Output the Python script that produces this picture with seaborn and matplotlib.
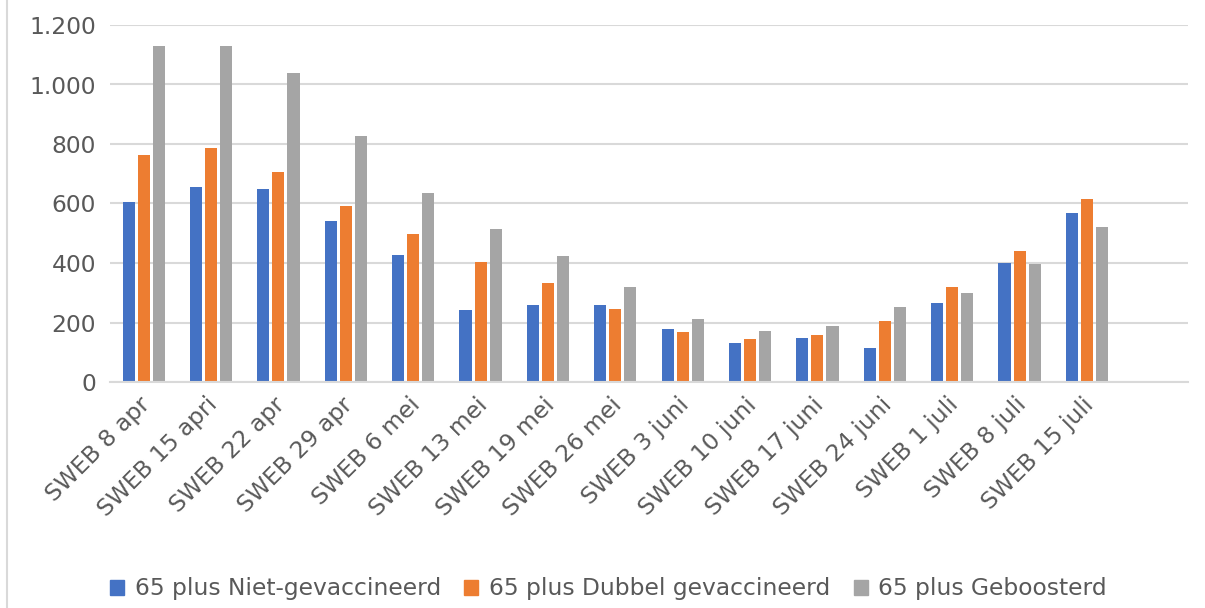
import matplotlib.pyplot as plt
import matplotlib.ticker as mticker
import matplotlib.transforms as mtransforms
from matplotlib.lines import Line2D
import pandas as pd
import seaborn as sns

weeks = ['SWEB 8 apr', 'SWEB 15 apri', 'SWEB 22 apr', 'SWEB 29 apr', 'SWEB 6 mei',
         'SWEB 13 mei', 'SWEB 19 mei', 'SWEB 26 mei', 'SWEB 3 juni', 'SWEB 10 juni',
         'SWEB 17 juni', 'SWEB 24 juni', 'SWEB 1 juli', 'SWEB 8 juli', 'SWEB 15 juli']
niet_gevaccineerd = [605, 655, 649, 541, 427, 242, 259, 259, 178, 131, 148, 114, 266, 400, 568]
dubbel_gevaccineerd = [763, 787, 706, 592, 497, 403, 333, 245, 168, 145, 158, 205, 319, 440, 615]
geboosterd = [1129, 1129, 1039, 827, 635, 514, 424, 319, 212, 171, 188, 252, 299, 397, 521]
series_names = ['65 plus Niet-gevaccineerd', '65 plus Dubbel gevaccineerd', '65 plus Geboosterd']
colors = ['#4472c4', '#ed7d31', '#a5a5a5']

rows = []
for name, vals in zip(series_names, [niet_gevaccineerd, dubbel_gevaccineerd, geboosterd]):
    for week, v in zip(weeks, vals):
        rows.append({'week': week, 'serie': name, 'waarde': v})
df = pd.DataFrame(rows)

sns.set_style('white')
plt.rcParams['font.family'] = ['DejaVu Sans']
text_color = '#595959'
grid_color = '#d9d9d9'

fig = plt.figure(figsize=(12.05, 6.08), dpi=100)
ax = fig.add_axes([110 / 1205, 1 - 382 / 608, (1188 - 110) / 1205, (382 - 25) / 608])

sns.barplot(data=df, x='week', y='waarde', hue='serie', hue_order=series_names,
            palette=colors, order=weeks, width=0.67, gap=0.2, saturation=1,
            linewidth=0, ax=ax, legend=False)

ax.set_xlim(-0.5, 15.5)
ax.set_ylim(0, 1200)
ax.yaxis.set_major_locator(mticker.MultipleLocator(200))
ax.yaxis.set_major_formatter(mticker.FuncFormatter(lambda v, p: f'{int(v):,}'.replace(',', '.')))
ax.grid(True, axis='y', color=grid_color, linewidth=1.5)
ax.set_axisbelow(True)
for side in ['top', 'right', 'left']:
    ax.spines[side].set_visible(False)
ax.spines['bottom'].set_color(grid_color)
ax.spines['bottom'].set_linewidth(1.5)
ax.set_xlabel('')
ax.set_ylabel('')
ax.tick_params(axis='both', length=0, labelsize=16.8, colors=text_color)
ax.tick_params(axis='y', pad=10)
ax.tick_params(axis='x', pad=8)
shift = mtransforms.ScaledTranslation(-5 / 100, 0, fig.dpi_scale_trans)
for lbl in ax.get_xticklabels():
    lbl.set_rotation(45)
    lbl.set_ha('right')
    lbl.set_rotation_mode('anchor')
    lbl.set_transform(lbl.get_transform() + shift)

handles = [plt.Rectangle((0, 0), 1, 1, color=c) for c in colors]
fig.legend(handles, series_names, loc='center', bbox_to_anchor=(0.505, 1 - 589 / 608),
           ncol=3, frameon=False, fontsize=16.8, labelcolor=text_color,
           handlelength=0.6, handleheight=0.6, handletextpad=0.45, columnspacing=1.0)

fig.add_artist(Line2D([7 / 1205, 7 / 1205], [0, 1], color=grid_color, linewidth=1.5,
                      transform=fig.transFigure))

fig.savefig('out.png', dpi=100)
